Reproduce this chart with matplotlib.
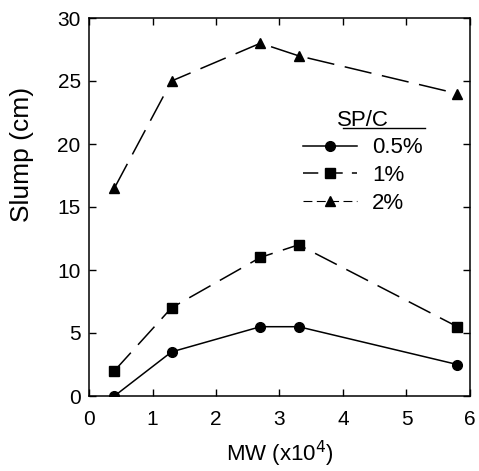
import matplotlib
matplotlib.use("Agg")
import matplotlib.pyplot as plt
from matplotlib.lines import Line2D

plt.rcParams['font.family'] = ['Liberation Sans', 'DejaVu Sans']

# data
mw = [0.4, 1.3, 2.7, 3.3, 5.8]
slump_05 = [0, 3.5, 5.5, 5.5, 2.5]
slump_1 = [2, 7, 11, 12, 5.5]
slump_2 = [16.5, 25, 28, 27, 24]
labels = ["0.5%", "1%", "2%"]

fig = plt.figure(figsize=(4.79, 4.71), dpi=100)
ax = fig.add_axes([89 / 479, 1 - 396 / 471, 381 / 479, 378 / 471])

ax.plot(mw, slump_05, color="black", lw=1.1, marker="o", ms=7, label=labels[0])
ax.plot(mw, slump_1, color="black", lw=1.1, marker="s", ms=6.5,
        dashes=(16, 7), label=labels[1])
ax.plot(mw, slump_2, color="black", lw=1.1, marker="^", ms=7,
        dashes=(18, 7), label=labels[2])

ax.set_xlim(0, 6)
ax.set_ylim(0, 30)
ax.set_xticks(range(0, 7))
ax.set_yticks(range(0, 31, 5))
ax.tick_params(direction="in", top=True, right=True, length=5, width=1,
               labelsize=15)
ax.tick_params(axis="x", pad=10)
ax.tick_params(axis="y", pad=6)
for s in ax.spines.values():
    s.set_linewidth(1.1)

ax.set_xlabel("MW (x10$^4$)", fontsize=16)
ax.set_ylabel("Slump (cm)", fontsize=19)
ax.xaxis.set_label_coords(0.5, -0.112)
ax.yaxis.set_label_coords(-0.145, 0.64)

handles = [
    Line2D([], [], color="black", lw=1.1, marker="o", ms=7),
    Line2D([], [], color="black", lw=1.1, marker="s", ms=6.5, dashes=(10, 6)),
    Line2D([], [], color="black", lw=0.8, marker="^", ms=7, dashes=(8, 4)),
]
leg = ax.legend(handles, labels, title="SP/C", frameon=False, fontsize=16,
                title_fontsize=16, handlelength=2.4, handletextpad=0.7,
                labelspacing=0.3, loc="upper left",
                bbox_to_anchor=(0.51, 0.81))
ax.plot([0.667, 0.882], [0.709, 0.709], transform=ax.transAxes, color="black",
        lw=1.0)

fig.savefig("out.png", dpi=100)
